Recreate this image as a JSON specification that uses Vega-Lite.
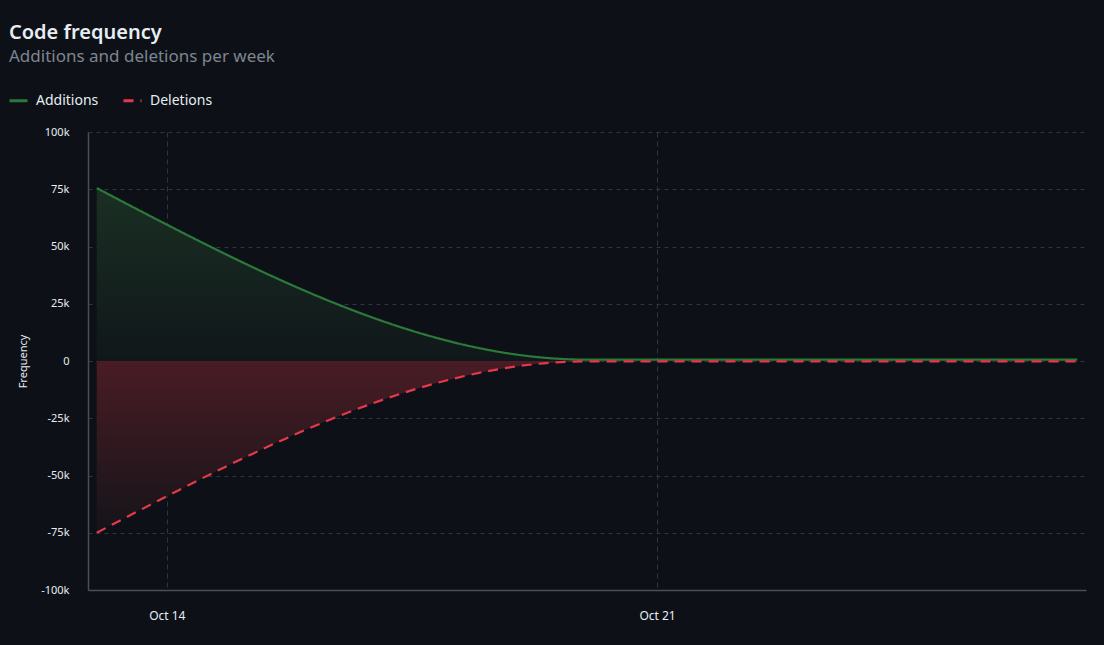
{
  "$schema": "https://vega.github.io/schema/vega-lite/v6.json",
  "autosize": {"type": "none"},
  "width": 998,
  "height": 458,
  "padding": {"left": 88, "top": 132, "right": 18, "bottom": 55},
  "background": "#0d1117",
  "title": {
    "text": "Code frequency",
    "subtitle": "Additions and deletions per week",
    "anchor": "start",
    "frame": "group",
    "dx": -79,
    "offset": 25,
    "font": "Segoe UI, Noto Sans, sans-serif",
    "fontSize": 20,
    "fontWeight": 600,
    "color": "#e6edf3",
    "subtitleFont": "Segoe UI, Noto Sans, sans-serif",
    "subtitleFontSize": 17,
    "subtitleColor": "#7d8590",
    "subtitlePadding": 6
  },
  "data": {
    "values": [
      {"date": "2024-10-13", "type": "Additions", "value": 75500},
      {"date": "2024-10-20", "type": "Additions", "value": 600},
      {"date": "2024-10-27", "type": "Additions", "value": 600},
      {"date": "2024-10-13", "type": "Deletions", "value": -75000},
      {"date": "2024-10-20", "type": "Deletions", "value": -150},
      {"date": "2024-10-27", "type": "Deletions", "value": -150}
    ]
  },
  "encoding": {
    "x": {
      "field": "date",
      "type": "temporal",
      "scale": {
        "type": "utc",
        "domain": [
          {"year": 2024, "month": "Oct", "date": 12, "hours": 21, "utc": true},
          {"year": 2024, "month": "Oct", "date": 27, "hours": 3, "utc": true}
        ]
      },
      "axis": {
        "title": null,
        "values": [
          {"year": 2024, "month": "Oct", "date": 14, "utc": true},
          {"year": 2024, "month": "Oct", "date": 21, "utc": true}
        ],
        "labelExpr": "utcFormat(datum.value, '%b %-d')",
        "labelPadding": 20,
        "labelFontSize": 12,
        "gridDash": [5, 4],
        "labelFlush": false
      }
    },
    "y": {
      "field": "value",
      "type": "quantitative",
      "stack": null,
      "scale": {"domain": [-100000, 100000], "nice": false},
      "axis": {
        "title": "Frequency",
        "values": [-100000, -75000, -50000, -25000, 0, 25000, 50000, 75000, 100000],
        "labelExpr": "datum.value == 0 ? '0' : (datum.value / 1000) + 'k'",
        "labelPadding": 19,
        "labelFontSize": 11,
        "titlePadding": 12,
        "titleFontSize": 11,
        "titleFontWeight": "normal",
        "gridDash": [4, 4]
      }
    }
  },
  "layer": [
    {
      "transform": [{"filter": "datum.type == 'Additions'"}],
      "mark": {
        "type": "area",
        "interpolate": "monotone",
        "fill": {
          "gradient": "linear",
          "x1": 0, "y1": 0, "x2": 0, "y2": 1,
          "stops": [
            {"offset": 0, "color": "#1a2f23"},
            {"offset": 1, "color": "#10171a"}
          ]
        }
      },
      "encoding": {"y2": {"datum": 0}}
    },
    {
      "transform": [{"filter": "datum.type == 'Deletions'"}],
      "mark": {
        "type": "area",
        "interpolate": "monotone",
        "fill": {
          "gradient": "linear",
          "x1": 0, "y1": 0, "x2": 0, "y2": 1,
          "stops": [
            {"offset": 0, "color": "#4a1c25"},
            {"offset": 1, "color": "#141419"}
          ]
        }
      },
      "encoding": {"y2": {"datum": 0}}
    },
    {
      "mark": {"type": "line", "interpolate": "monotone", "strokeWidth": 2.2},
      "encoding": {
        "color": {
          "field": "type",
          "type": "nominal",
          "scale": {"domain": ["Additions", "Deletions"], "range": ["#2c7a3a", "#e5384a"]},
          "legend": {
            "title": null,
            "orient": "none",
            "legendX": -80,
            "legendY": -42,
            "direction": "horizontal",
            "symbolType": "stroke",
            "symbolSize": 324,
            "symbolStrokeWidth": 3,
            "labelFontSize": 14,
            "labelColor": "#e6edf3",
            "labelFont": "Segoe UI, Noto Sans, sans-serif",
            "columnPadding": 18,
            "labelOffset": 7
          }
        },
        "strokeDash": {
          "field": "type",
          "type": "nominal",
          "scale": {"domain": ["Additions", "Deletions"], "range": [[1, 0], [10, 7]]},
          "legend": {
            "title": null,
            "orient": "none",
            "legendX": -80,
            "legendY": -42,
            "direction": "horizontal",
            "symbolType": "stroke",
            "symbolSize": 324,
            "symbolStrokeWidth": 3,
            "labelFontSize": 14,
            "labelColor": "#e6edf3",
            "labelFont": "Segoe UI, Noto Sans, sans-serif",
            "columnPadding": 18,
            "labelOffset": 7
          }
        }
      }
    }
  ],
  "config": {
    "view": {"stroke": null},
    "font": "Segoe UI, Noto Sans, sans-serif",
    "axis": {
      "labelColor": "#e6edf3",
      "titleColor": "#e6edf3",
      "labelFont": "Segoe UI, Noto Sans, sans-serif",
      "titleFont": "Segoe UI, Noto Sans, sans-serif",
      "domainColor": "#484f58",
      "domainWidth": 1.5,
      "gridColor": "#30363d",
      "gridWidth": 1,
      "ticks": false,
      "grid": true
    }
  }
}
